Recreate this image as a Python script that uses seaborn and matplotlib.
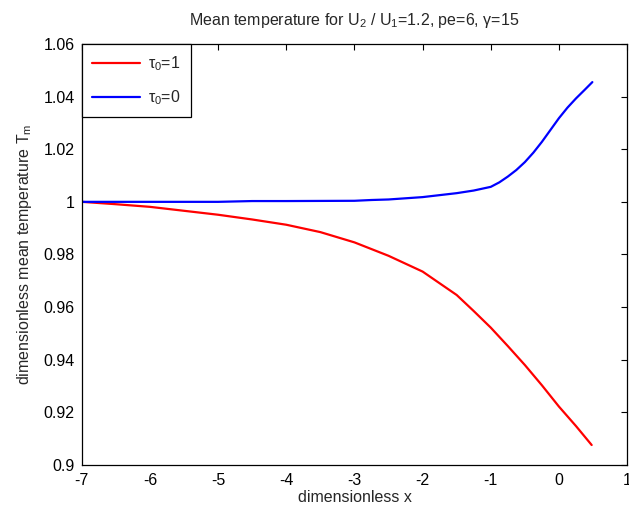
import numpy as np
import pandas as pd
import matplotlib
matplotlib.use('Agg')
import matplotlib.pyplot as plt
import matplotlib.ticker as mticker
import seaborn as sns

# values
x_tau1 = [-7, -6.5, -6, -5.5, -5, -4.5, -4, -3.5, -3, -2.5, -2, -1.5, -1.25, -1,
          -0.75, -0.5, -0.25, 0, 0.25, 0.48]
t_tau1 = [1.0, 0.9991, 0.9981, 0.9966, 0.9951, 0.9933, 0.9913, 0.9885, 0.9846,
          0.9795, 0.9735, 0.9646, 0.9585, 0.9522, 0.9452, 0.938, 0.9303, 0.9222,
          0.9148, 0.9076]

x_tau0 = [-7, -6, -5, -4.5, -4, -3, -2.75, -2.5, -2, -1.5, -1.25, -1, -0.875,
          -0.75, -0.625, -0.5, -0.375, -0.25, -0.125, 0, 0.125, 0.25, 0.375, 0.49]
t_tau0 = [1.0, 1.0, 1.0, 1.0003, 1.0003, 1.0004, 1.0007, 1.0009, 1.0018, 1.0033,
          1.0043, 1.0057, 1.0074, 1.0096, 1.0121, 1.0151, 1.0187, 1.0228, 1.0273,
          1.0318, 1.0358, 1.0393, 1.0425, 1.0455]

x_ticks = [-7, -6, -5, -4, -3, -2, -1, 0, 1]
y_ticks = [0.9, 0.92, 0.94, 0.96, 0.98, 1.0, 1.02, 1.04, 1.06]

sns.set_style('white')
plt.rcParams['font.family'] = ['Liberation Sans', 'DejaVu Sans']
plt.rcParams['mathtext.fontset'] = 'custom'
plt.rcParams['mathtext.rm'] = 'Liberation Sans'
plt.rcParams['mathtext.it'] = 'Liberation Sans'
plt.rcParams['axes.unicode_minus'] = False

fs = 11.5

fig = plt.figure(figsize=(6.29, 5.11), dpi=100)
ax = fig.add_axes([0.130, 0.090, 0.867, 0.824])

sns.lineplot(x=x_tau1, y=t_tau1, ax=ax, color='red', linewidth=1.6,
             label=r'$\tau_0$=1', sort=False, estimator=None)
sns.lineplot(x=x_tau0, y=t_tau0, ax=ax, color='blue', linewidth=1.6,
             label=r'$\tau_0$=0', sort=False, estimator=None)

ax.set_xlim(-7, 1)
ax.set_ylim(0.9, 1.06)
ax.set_xticks(x_ticks)
ax.set_yticks(y_ticks)
ax.yaxis.set_major_formatter(mticker.FormatStrFormatter('%g'))
ax.tick_params(direction='in', length=4, width=0.8, top=True, right=True,
               labelsize=fs, colors='black')
ax.tick_params(axis='x', pad=6)
ax.tick_params(axis='y', pad=5)
for s in ax.spines.values():
    s.set_color('black')
    s.set_linewidth(0.9)

ax.set_title(r'Mean temperature for U$_2$ / U$_1$=1.2, pe=6, $\gamma$=15',
             fontsize=fs, pad=14)
ax.set_xlabel('dimensionless x', fontsize=fs, labelpad=1)
ax.set_ylabel('dimensionless mean temperature T$_m$', fontsize=fs, labelpad=7)

leg = ax.legend(loc='upper left', borderaxespad=0, fancybox=False,
                framealpha=1, edgecolor='black', fontsize=fs,
                handlelength=3.0, borderpad=0.65, labelspacing=0.95,
                handletextpad=0.5)
leg.get_frame().set_linewidth(0.9)

fig.savefig('out.png', dpi=100)
